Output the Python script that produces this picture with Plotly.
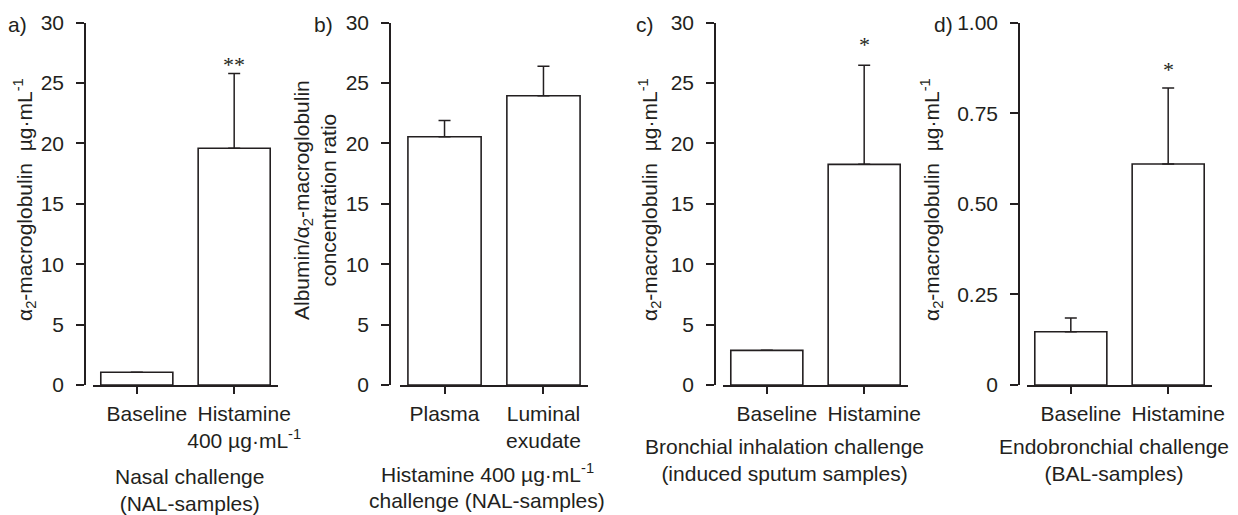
import plotly.graph_objects as go

W, H = 1238, 515
INK = "#231f20"
FONT = "Liberation Sans, Arial, sans-serif"
FS = 21

# ---- data ----
a_cats = ["Baseline", "Histamine<br>400 µg·mL<sup>-1</sup>"]
a_vals = [1.05, 19.6]
a_err = [None, 6.2]

b_cats = ["Plasma", "Luminal<br>exudate"]
b_vals = [20.55, 23.95]
b_err = [1.35, 2.45]

c_cats = ["Baseline", "Histamine"]
c_vals = [2.87, 18.27]
c_err = [None, 8.2]

d_cats = ["Baseline", "Histamine"]
d_vals = [0.147, 0.61]
d_err = [0.038, 0.21]

y_ticks_30 = [0, 5, 10, 15, 20, 25, 30]
d_tickvals = [0, 0.25, 0.5, 0.75, 1.0]
d_ticktext = ["0", "0.25", "0.50", "0.75", "1.00"]

panels = [
    dict(cats=a_cats, vals=a_vals, err=a_err, yrange=[0, 30], tv=y_ticks_30, tt=[str(v) for v in y_ticks_30],
         xpx=(93, 278), ypx=85, shift=10, star="**", stary=26.53),
    dict(cats=b_cats, vals=b_vals, err=b_err, yrange=[0, 30], tv=y_ticks_30, tt=[str(v) for v in y_ticks_30],
         xpx=(400, 588), ypx=390, shift=0, star=None, stary=None),
    dict(cats=c_cats, vals=c_vals, err=c_err, yrange=[0, 30], tv=y_ticks_30, tt=[str(v) for v in y_ticks_30],
         xpx=(723, 908), ypx=715, shift=10, star="*", stary=28.2),
    dict(cats=d_cats, vals=d_vals, err=d_err, yrange=[0, 1.0], tv=d_tickvals, tt=d_ticktext,
         xpx=(1027, 1212), ypx=1019, shift=10, star="*", stary=0.871),
]

ytop_px, ybot_px = 22.7, 385
ydom = [(H - ybot_px) / H, (H - ytop_px) / H]

fig = go.Figure()
layout = {}
annotations = []

for i, p in enumerate(panels):
    n = "" if i == 0 else str(i + 1)
    xa, ya = "x" + n, "y" + n
    fig.add_trace(go.Bar(
        x=[0, 1], y=p["vals"], xaxis=xa, yaxis=ya, width=0.74,
        marker=dict(color="white", line=dict(color=INK, width=1.6)),
        error_y=dict(type="data", symmetric=False, array=p["err"], arrayminus=[0, 0],
                     color=INK, thickness=1.5, width=6),
        showlegend=False, hoverinfo="skip",
    ))
    layout["xaxis" + n] = dict(
        domain=[p["xpx"][0] / W, p["xpx"][1] / W], anchor=ya, range=[-0.45, 1.45],
        tickvals=[0, 1], ticktext=p["cats"], ticks="outside", ticklen=7, tickwidth=1.5, tickcolor=INK,
        showline=True, linecolor=INK, linewidth=1.6, showgrid=False, zeroline=False,
        tickfont=dict(family=FONT, size=FS, color=INK), ticklabelshift=p["shift"], ticklabelstandoff=2,
        tickangle=0, automargin=False, fixedrange=True,
    )
    layout["yaxis" + n] = dict(
        domain=ydom, anchor="free", position=p["ypx"] / W, range=p["yrange"],
        tickvals=p["tv"], ticktext=p["tt"], ticks="outside", ticklen=8, tickwidth=1.5, tickcolor=INK,
        showline=True, linecolor=INK, linewidth=1.6, showgrid=False, zeroline=False,
        tickfont=dict(family=FONT, size=FS, color=INK), ticklabelstandoff=8,
        automargin=False, fixedrange=True,
    )
    if p["star"]:
        annotations.append(dict(x=1, y=p["stary"], xref=xa, yref=ya, text=p["star"], showarrow=False,
                                yanchor="middle",
                                font=dict(family="Liberation Serif, serif", size=22, color=INK)))

def ann(x, y, text, angle=0, xanchor="center", yanchor="middle", size=FS):
    annotations.append(dict(x=x / W, y=1 - y / H, xref="paper", yref="paper", text=text, showarrow=False,
                            textangle=angle, xanchor=xanchor, yanchor=yanchor, align="center",
                            font=dict(family=FONT, size=size, color=INK)))

# panel letters
ann(17, 24, "a)")
ann(323, 24, "b)")
ann(645, 24, "c)")
ann(955, 24, "d)", xanchor="right")

# y-axis titles
ytitle = "α<sub>2</sub>-macroglobulin  µg·mL<sup>-1</sup>"
ann(24, 200, ytitle, angle=-90)
ann(315, 200, "Albumin/α<sub>2</sub>-macroglobulin<br>concentration ratio", angle=-90)
ann(649, 200, ytitle, angle=-90)
ann(931, 200, ytitle, angle=-90)

# bottom titles
ann(189, 490, "Nasal challenge<br>(NAL-samples)")
ann(487, 473, "Histamine 400 µg·mL<sup>-1</sup>")
ann(487, 500, "challenge (NAL-samples)")
ann(784, 460, "Bronchial inhalation challenge<br>(induced sputum samples)")
ann(1114, 460, "Endobronchial challenge<br>(BAL-samples)")

fig.update_layout(
    template="none",
    width=W, height=H, margin=dict(l=0, r=0, t=0, b=0, autoexpand=False),
    paper_bgcolor="white", plot_bgcolor="white",
    annotations=annotations, **layout,
)

fig.write_html("out.html", config={"displayModeBar": False},
               post_script="document.body.style.margin='0px';")
